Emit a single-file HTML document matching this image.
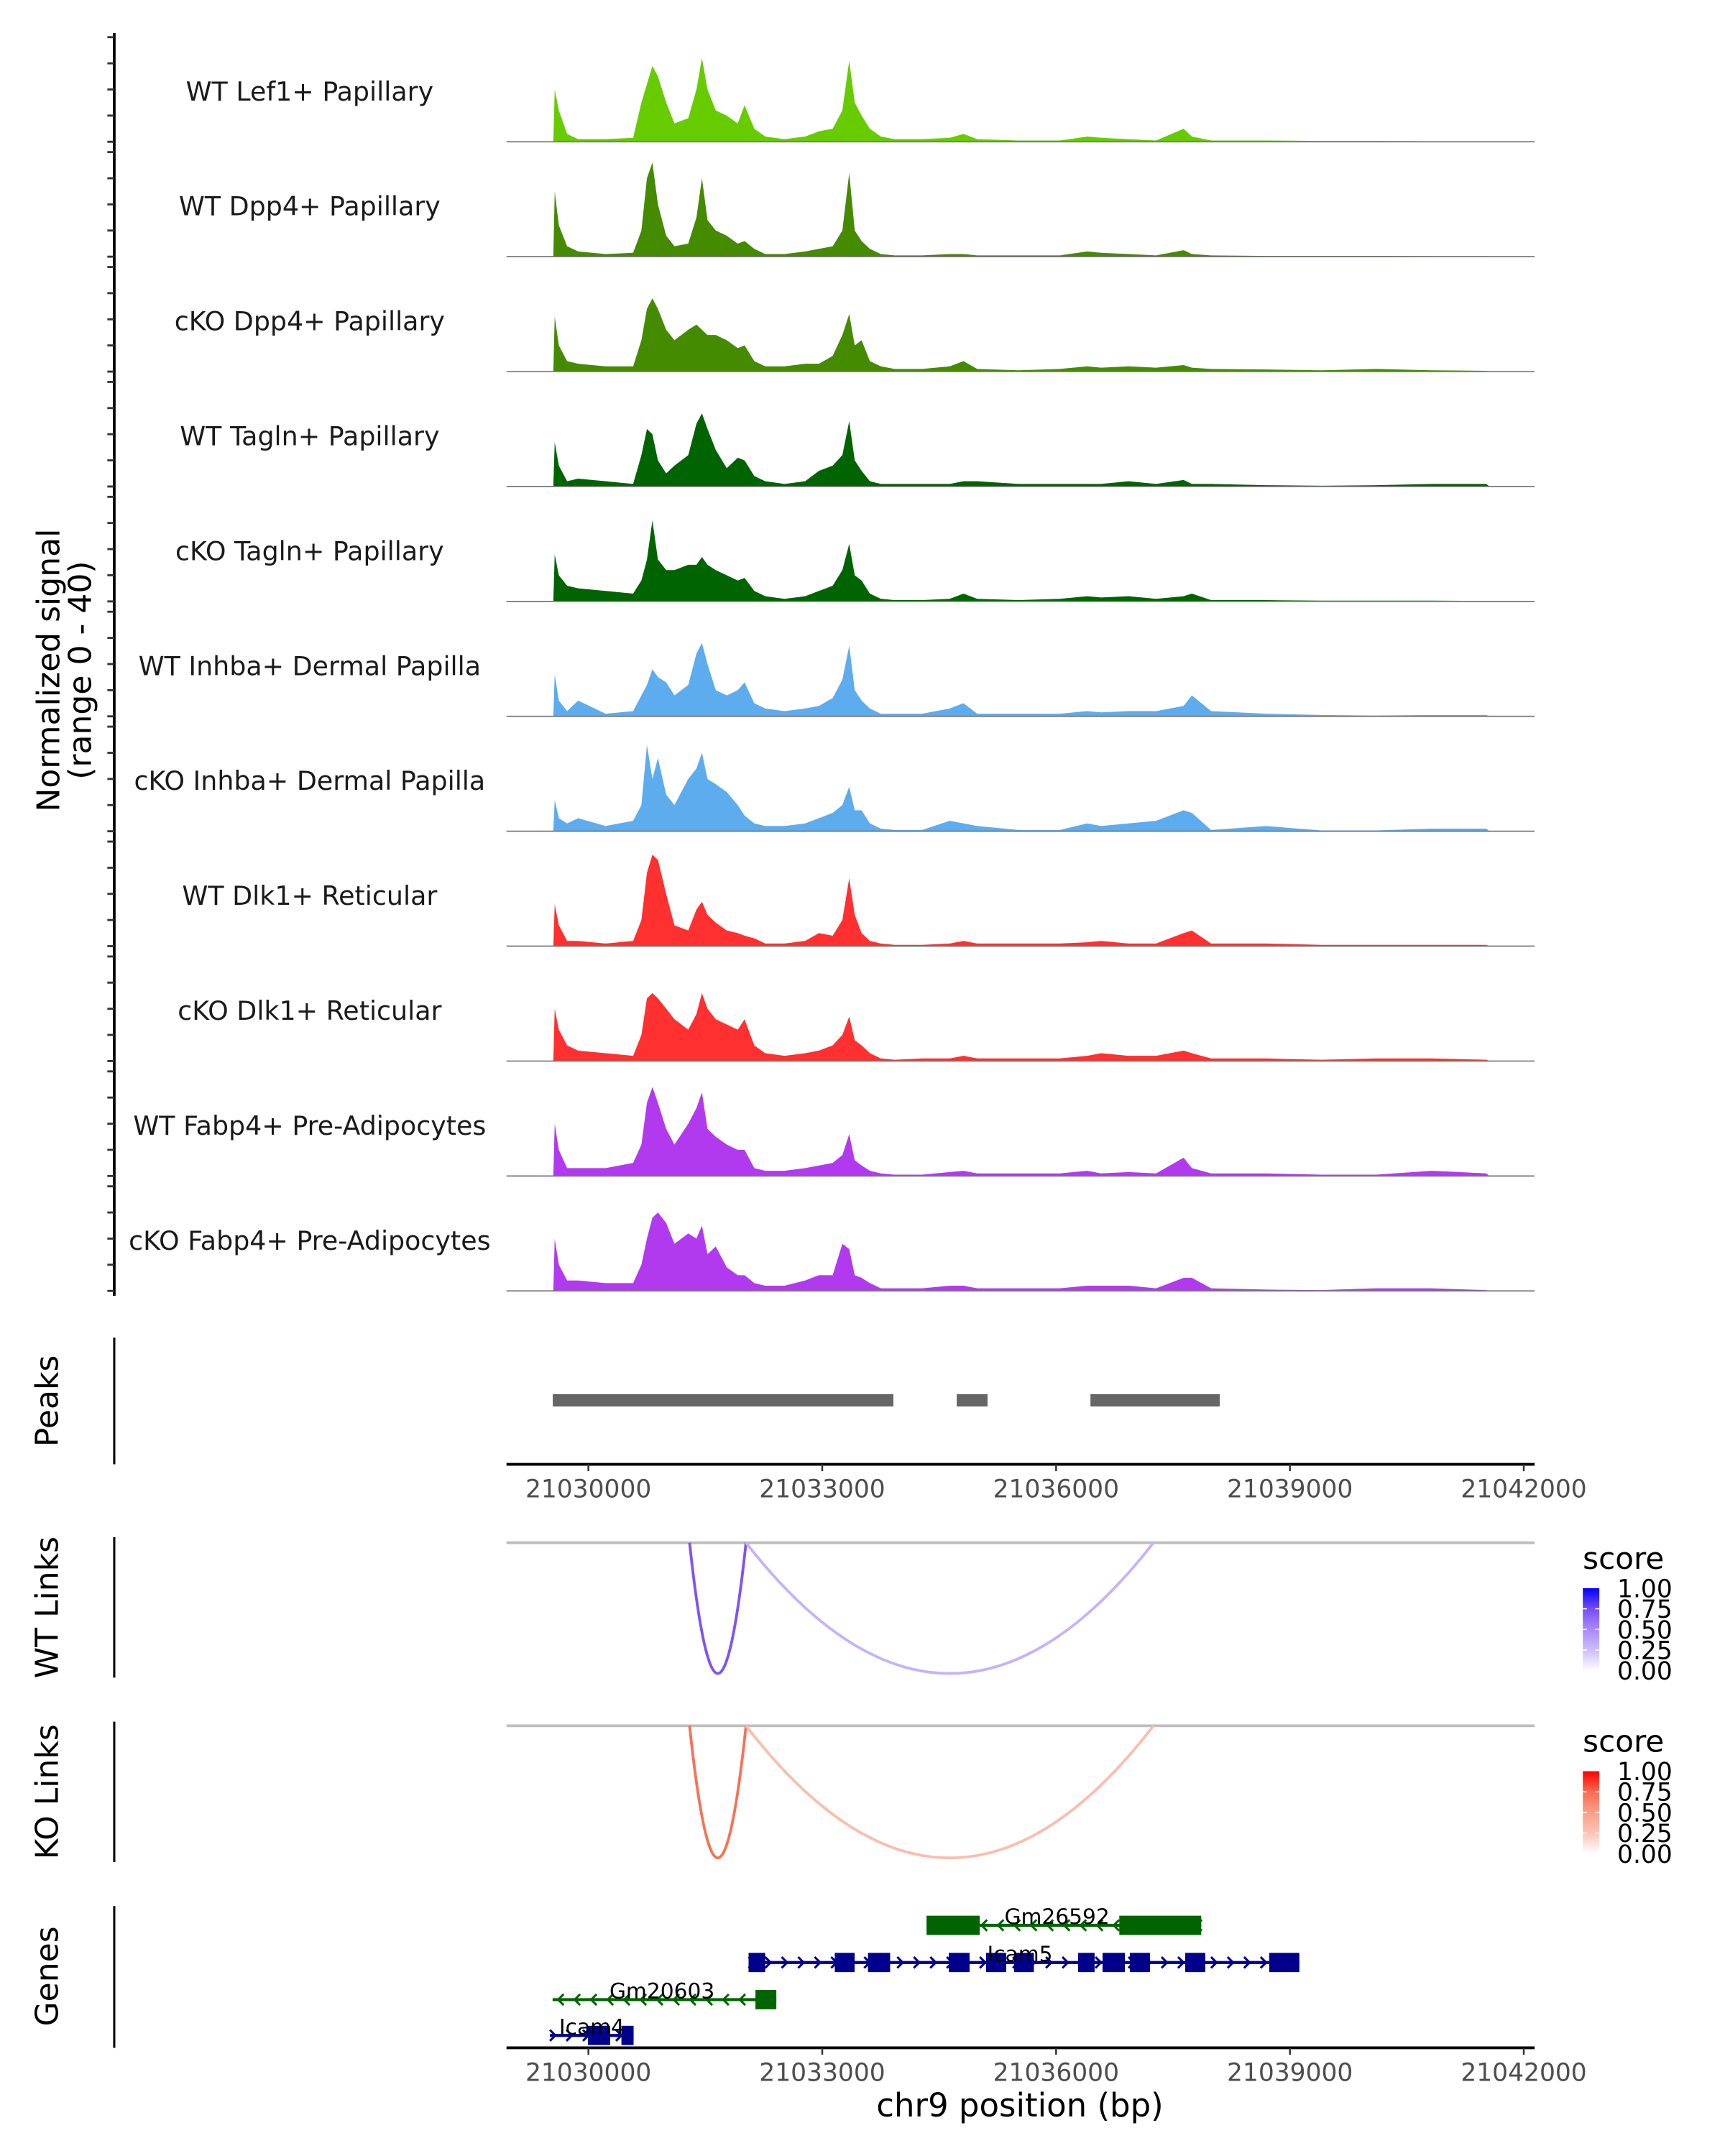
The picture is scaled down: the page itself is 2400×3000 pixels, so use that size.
<!DOCTYPE html>
<html><head><meta charset="utf-8"><style>
html,body{margin:0;padding:0;background:#fff;}
svg{display:block;}
text{font-family:"DejaVu Sans","Liberation Sans",sans-serif;}
</style></head><body>
<svg id="chart" xmlns="http://www.w3.org/2000/svg" width="2400" height="3000" viewBox="0 0 1253.3 1566.6">
<g id="tracks"></g>
<g id="left-axis"></g>
<text transform="translate(43,487) rotate(-90)" text-anchor="middle" font-size="23" fill="#000">Normalized signal</text>
<text transform="translate(66,487) rotate(-90)" text-anchor="middle" font-size="23" fill="#000">(range 0 - 40)</text>
<g id="peaks"></g>
<g id="links"></g>
<g id="genes"></g>
<text x="741" y="1538" text-anchor="middle" font-size="23.5" fill="#000">chr9 position (bp)</text>
</svg>
<script>
const trackNames = ["WT Lef1+ Papillary","WT Dpp4+ Papillary","cKO Dpp4+ Papillary","WT Tagln+ Papillary","cKO Tagln+ Papillary","WT Inhba+ Dermal Papilla","cKO Inhba+ Dermal Papilla","WT Dlk1+ Reticular","cKO Dlk1+ Reticular","WT Fabp4+ Pre-Adipocytes","cKO Fabp4+ Pre-Adipocytes"];
const trackColors = ["#66CC00","#458B00","#458B00","#006400","#006400","#5CACEE","#5CACEE","#FF3030","#FF3030","#B23AEE","#B23AEE"];
const positions = [21029550,21029568,21029621,21029727,21029868,21030221,21030574,21030680,21030751,21030821,21030892,21030998,21031104,21031281,21031386,21031457,21031528,21031634,21031775,21031916,21032004,21032128,21032269,21032516,21032781,21032958,21033134,21033258,21033346,21033417,21033505,21033611,21033752,21033929,21034282,21034635,21034812,21034988,21035518,21036047,21036400,21036577,21036930,21037283,21037636,21037742,21037989,21038696,21039402,21040108,21040814,21041520,21041560];
const sigLef1WT = [0,20,12,3,1,1,1.5,15,22,29,25,15,7,9,20,32,20,12,10,7,14,5,2,1,2,4,5,12,31,15,10,5,2,1,1,1.5,3,1,0.5,0.5,2,1.5,1,0.5,5,2,0.5,0.5,0.3,0.3,0.2,0.2,0];
const sigDpp4WT = [0,25,12,4,2,1,1.5,10,30,36,20,8,4,5,15,30,14,10,8,5,6,3,1,1,2,3,4,10,32,10,6,3,1,0.5,0.5,1,1,0.5,0.5,0.5,2,1.5,1,0.5,2.5,1,0.5,0.3,0.3,0.3,0.2,0.2,0];
const sigDpp4KO = [0,21,10,4,3,2,2,12,24,28,24,16,12,16,18,16,14,14,12,9,10,4,2,2,3,3,6,14,22,10,12,4,2,1,1,2,4,1,0.5,1,2,1.5,2,1.5,2.5,1.5,1,0.8,0.5,1,0.5,0.3,0];
const sigTaglnWT = [0,17,8,2,3,2,1,12,22,20,10,5,8,12,24,28,22,14,7,11,10,4,2,1,2,6,8,12,25,10,6,2,1,1,1,1,2,2,1,1,1,1,2,1,2.5,1,1,0.5,0.3,0.5,1,1,0];
const sigTaglnKO = [0,18,10,6,5,4,3,8,16,31,16,12,12,14,14,17,14,12,10,8,9,4,2,1,2,4,6,12,22,10,8,3,1,0.5,0.5,1,3,1,0.5,1,2,1.5,2,1,2,3,0.5,0.5,0.3,0.3,0.3,0.2,0];
const sigInhbaWT = [0,16,6,2,6,1,2,8,12,18,15,13,8,12,24,28,20,10,8,10,13,5,3,2,3,4,7,14,27,10,6,3,1,1,1,3,5,1,1,1,2,1.5,2,2,4,8,2,1,0.5,0.3,0.5,0.5,0];
const sigInhbaKO = [0,12,5,3,5,2,4,10,33,20,28,14,10,20,24,30,20,18,15,10,6,3,2,2,3,5,7,10,17,8,8,3,1,0.5,0.5,4,3,2,0.5,0.5,3,2,3,4,8,7,0.5,2,0.3,0.3,1,1,0];
const sigDlk1WT = [0,16,8,2,2,1,2,10,28,35,33,20,8,6,14,17,12,9,6,5,4,3,1,1,2,5,4,10,26,12,5,2,1,0.5,0.5,1,2,1,1,1,1.5,2,1,1,5,6,1,1,0.5,0.5,0.5,0.5,0];
const sigDlk1KO = [0,20,12,6,4,3,2,10,24,26,24,20,16,12,18,26,20,16,14,12,16,6,3,2,3,4,6,10,17,8,6,3,1,0.5,1,1,2,1,1,1,2,3,2,2,4,3,1,1,0.5,1,1,0.5,0];
const sigFabp4WT = [0,20,10,3,3,3,5,12,28,34,28,18,12,20,26,32,18,15,12,10,10,3,2,2,3,4,5,8,16,6,4,2,1,0.5,0.5,1.5,2,1,1,1,2,1,1.5,1,7,3,1,1,0.5,0.5,2,1,0];
const sigFabp4KO = [0,20,10,4,4,3,3,10,20,28,30,26,18,22,20,25,14,17,9,6,6,3,2,2,4,6,6,18,16,6,5,3,1,1,1,2,2,1,1,1,2,2,2,1,5,5,1,0.5,0.3,1,1,0.3,0];
const signals = [sigLef1WT,sigDpp4WT,sigDpp4KO,sigTaglnWT,sigTaglnKO,sigInhbaWT,sigInhbaKO,sigDlk1WT,sigDlk1KO,sigFabp4WT,sigFabp4KO];
const xTicks = [21030000,21033000,21036000,21039000,21042000];
const xTickLabels = ["21030000","21033000","21036000","21039000","21042000"];
const peakStarts = [21029543,21034725,21036441];
const peakEnds = [21033913,21035121,21038100];
const linkStarts = [21031298,21032022];
const linkEnds = [21032022,21037249];
const linkScores = [0.72,0.3];
const legendTicks = ["1.00","0.75","0.50","0.25","0.00"];
const geneNames = ["Gm26592","Icam5","Gm20603","Icam4"];
const geneStarts = [21034338,21032055,21029541,21029506];
const geneEnds = [21037862,21039121,21032411,21030580];
const geneStrands = [-1,1,-1,1];
const exonStarts = [[21034338,21036811],[21032055,21033161,21033587,21034623,21035102,21035462,21036282,21036596,21036946,21037656,21038734],[21032143],[21029995,21030424]];
const exonEnds = [[21035020,21037862],[21032268,21033415,21033871,21034890,21035360,21035715,21036494,21036882,21037204,21037914,21039121],[21032411],[21030280,21030580]];
const geneColors = ["#006400","#00008B","#006400","#00008B"];

const NS="http://www.w3.org/2000/svg";
const X0=368, X1=1115;
function xs(g){return 427.5+(g-21030000)*169.9/3000;}
function el(tag,attrs,parent){const e=document.createElementNS(NS,tag);for(const k in attrs)e.setAttribute(k,attrs[k]);parent.appendChild(e);return e;}
const baselines=[103,186.5,270,353.5,437,520.5,604,687.5,771,854.5,938];
const TH=76;
function ys(v,b){return b-v/40*TH;}

const tracksG=document.getElementById('tracks');
signals.forEach((s,i)=>{
  const b=baselines[i];
  const g=el('g',{},tracksG);
  
  
  let d='M'+xs(positions[0])+','+b;
  const n=Math.min(s.length,positions.length);
  for(let k=0;k<n;k++){d+=' L'+xs(positions[k]).toFixed(2)+','+ys(s[k],b).toFixed(2);}
  d+=' L'+xs(positions[n-1]).toFixed(2)+','+b+' Z';
  const p=el('path',{d:d,fill:trackColors[i]},g);
  
  
  const bl=el('line',{x1:X0,x2:X1,y1:b,y2:b,stroke:'#777','stroke-width':0.9},g);
  
  
  const t=el('text',{x:225,y:b-30,'text-anchor':'middle','font-size':'19',fill:'#1a1a1a'},g);
  t.textContent=trackNames[i];
  
  
});

const la=document.getElementById('left-axis');
el('line',{x1:83,x2:83,y1:24,y2:941.5,stroke:'#000','stroke-width':2},la);
baselines.forEach(b=>{
  for(let k=0;k<5;k++){const y=b-TH+k*TH/4;el('line',{x1:78,x2:83,y1:y,y2:y,stroke:'#333','stroke-width':1.5},la);}
});

const pk=document.getElementById('peaks');
el('line',{x1:83,x2:83,y1:972,y2:1064,stroke:'#000','stroke-width':1.6},pk);
const pt=el('text',{transform:'translate(42,1018) rotate(-90)','text-anchor':'middle','font-size':'23',fill:'#000'},pk);
pt.textContent='Peaks';


peakStarts.forEach((s,i)=>{
  const r=el('rect',{x:xs(s),y:1013,width:xs(peakEnds[i])-xs(s),height:9,fill:'#666'},pk);
  
  
});
function xAxis(y,parent){
  el('line',{x1:X0,x2:X1,y1:y,y2:y,stroke:'#000','stroke-width':2},parent);
  xTicks.forEach((t,i)=>{
    el('line',{x1:xs(t),x2:xs(t),y1:y,y2:y+5,stroke:'#333','stroke-width':1.3},parent);
    const tx=el('text',{x:xs(t),y:y+24,'text-anchor':'middle','font-size':'18','fill':'#4d4d4d'},parent);
    tx.textContent=xTickLabels[i];
    
    
  });
}
xAxis(1064,pk);

const blueStops=[[255,255,255],[206,188,250],[170,138,250],[120,76,247],[0,0,255]];
const redStops=[[255,255,255],[251,196,182],[250,160,136],[245,108,80],[255,0,0]];
function colorFor(stops,s){
  const f=Math.max(0,Math.min(1,s))*4, i=Math.min(3,Math.floor(f)), t=f-i;
  return 'rgb('+[0,1,2].map(c=>Math.round(stops[i][c]+(stops[i+1][c]-stops[i][c])*t)).join(',')+')';
}
const lk=document.getElementById('links');
const linkPanels=[{top:1121,bot:1216,line:[1117,1219],title:'WT Links',stops:blueStops},{top:1254,bot:1350,line:[1251,1353],title:'KO Links',stops:redStops}];
linkPanels.forEach((P,pi)=>{
  const g=el('g',{},lk);
  
  
  el('line',{x1:83,x2:83,y1:P.line[0],y2:P.line[1],stroke:'#000','stroke-width':1.6},g);
  const t=el('text',{transform:'translate(42,'+((P.line[0]+P.line[1])/2)+') rotate(-90)','text-anchor':'middle','font-size':'23',fill:'#000'},g);
  t.textContent=P.title;
  
  
  el('line',{x1:X0,x2:X1,y1:P.top,y2:P.top,stroke:'#bebebe','stroke-width':2},g);
  linkStarts.forEach((s,i)=>{
    const a=xs(s),b=xs(linkEnds[i]),h=(P.bot-P.top)*2;
    const p=el('path',{d:`M${a},${P.top} Q${(a+b)/2},${P.top+h} ${b},${P.top}`,fill:'none',stroke:colorFor(P.stops,linkScores[i]),'stroke-width':2},g);
    
    
  });
  const lt=el('text',{x:1150,y:P.top+19,'font-size':'22',fill:'#000'},g);
  lt.textContent='score';
  
  
  const gid='grad'+pi;
  const defs=el('defs',{},g);
  const lg=el('linearGradient',{id:gid,x1:0,y1:1,x2:0,y2:0},defs);
  P.stops.forEach((c,k)=>el('stop',{offset:(k*25)+'%','stop-color':'rgb('+c.join(',')+')'},lg));
  const by=P.top+33;
  const cb=el('rect',{x:1150,y:by,width:12,height:60,fill:'url(#'+gid+')'},g);
  
  
  for(let k=1;k<4;k++){el('line',{x1:1150,x2:1153,y1:by+k*15,y2:by+k*15,stroke:'#fff','stroke-width':0.8},g);el('line',{x1:1159,x2:1162,y1:by+k*15,y2:by+k*15,stroke:'#fff','stroke-width':0.8},g);}
  legendTicks.forEach((l,k)=>{
    const y=by+k*15;
    const tx=el('text',{x:1175,y:y+6.5,'font-size':'18',fill:'#000'},g);
    tx.textContent=l;
    
    
  });
});

const gn=document.getElementById('genes');
el('line',{x1:83,x2:83,y1:1385,y2:1488,stroke:'#000','stroke-width':1.6},gn);
const gt=el('text',{transform:'translate(42,1436) rotate(-90)','text-anchor':'middle','font-size':'23',fill:'#000'},gn);
gt.textContent='Genes';


const geneY=[1399,1426,1453,1479];
const labelX=[768,741,481,430];
geneNames.forEach((nm,i)=>{
  const g=el('g',{},gn);
  
  
  const y=geneY[i],c=geneColors[i],a=xs(geneStarts[i]),b=xs(geneEnds[i]);
  el('line',{x1:a,x2:b,y1:y,y2:y,stroke:c,'stroke-width':2.2},g);
  for(let x=a+4;x<b-3;x+=12){
    const dx=geneStrands[i]*4;
    el('path',{d:`M${x-dx},${y-4} L${x},${y} L${x-dx},${y+4}`,fill:'none',stroke:c,'stroke-width':1.6},g);
  }
  exonStarts[i].forEach((s,k)=>{
    const r=el('rect',{x:xs(s),y:y-7,width:xs(exonEnds[i][k])-xs(s),height:14,fill:c},g);
    
    
  });
  const tx=el('text',{x:labelX[i],y:y-1,'text-anchor':'middle','font-size':'15.5',fill:'#000'},g);
  tx.textContent=nm;
  
  
});
xAxis(1488,gn);
</script>
</body></html>
